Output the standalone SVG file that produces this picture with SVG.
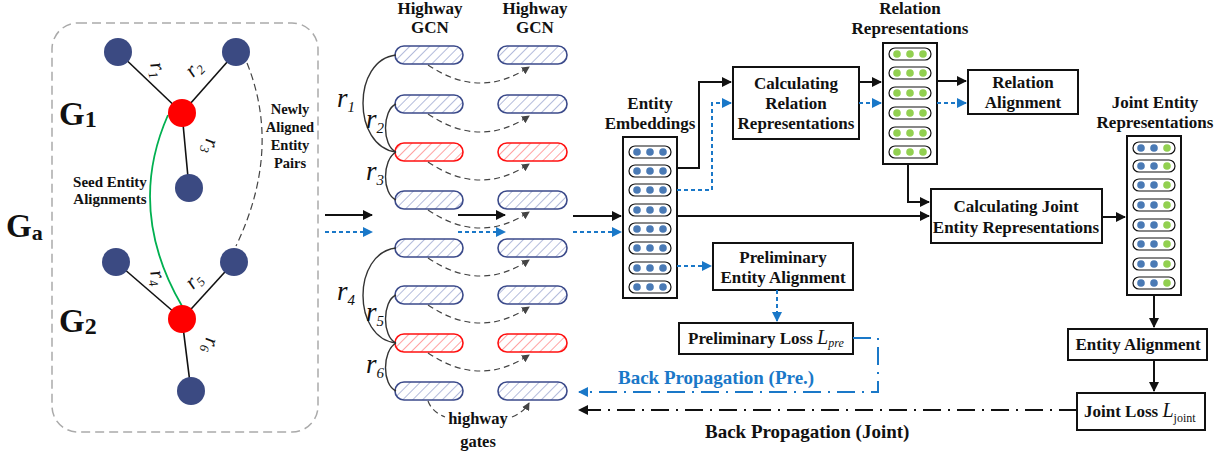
<svg xmlns="http://www.w3.org/2000/svg" width="1229" height="461" viewBox="0 0 1229 461">
<defs>
<style>
.t{font-family:"Liberation Serif","Times New Roman",serif;font-weight:bold;fill:#111}
.c{text-anchor:middle}
.it{font-family:"Liberation Serif","Times New Roman",serif;font-style:italic;fill:#111}
.box{fill:#fff;stroke:#111;stroke-width:2}
.cap{fill:#fff;stroke:#111;stroke-width:1.2}
.bd{fill:#4a7ab5}
.gd{fill:#92d050}
.bar{fill:url(#hb);stroke:#3b4a8a;stroke-width:1.6}
.barr{fill:url(#hr);stroke:#ff1010;stroke-width:1.6}
.k{fill:none;stroke:#111;stroke-width:2}
.bl{fill:none;stroke:#1a78c8;stroke-width:2;stroke-dasharray:4,3}
.gate{fill:none;stroke:#444;stroke-width:1.2;stroke-dasharray:6,4}
.rl{fill:none;stroke:#333;stroke-width:1.4}
.edge{stroke:#111;stroke-width:1.6}
.nb{fill:#3b4a82}
.nr{fill:#ff0000}
</style>
<pattern id="hb" width="7" height="7" patternUnits="userSpaceOnUse" patternTransform="rotate(45)">
<rect width="7" height="7" fill="#fff"/><line x1="0" y1="0" x2="0" y2="7" stroke="#8a96c8" stroke-width="1.3"/>
</pattern>
<pattern id="hr" width="7" height="7" patternUnits="userSpaceOnUse" patternTransform="rotate(45)">
<rect width="7" height="7" fill="#fff"/><line x1="0" y1="0" x2="0" y2="7" stroke="#ff7070" stroke-width="1.3"/>
</pattern>
<marker id="ak" markerWidth="10" markerHeight="10" refX="9" refY="5" orient="auto" markerUnits="userSpaceOnUse"><path d="M0,0 L10,5 L0,10 Z" fill="#111"/></marker>
<marker id="ab" markerWidth="10" markerHeight="10" refX="9" refY="5" orient="auto" markerUnits="userSpaceOnUse"><path d="M0,0 L10,5 L0,10 Z" fill="#1a78c8"/></marker>
<marker id="ag" markerWidth="8" markerHeight="8" refX="7" refY="4" orient="auto" markerUnits="userSpaceOnUse"><path d="M0,0 L8,4 L0,8 Z" fill="#444"/></marker>
<g id="capB"><rect class="cap" x="-21" y="-6" width="42" height="12" rx="6"/><circle class="bd" cx="-13" cy="0" r="3.8"/><circle class="bd" cx="0" cy="0" r="3.8"/><circle class="bd" cx="13" cy="0" r="3.8"/></g>
<g id="capG"><rect class="cap" x="-21" y="-6" width="42" height="12" rx="6"/><circle class="gd" cx="-13" cy="0" r="3.8"/><circle class="gd" cx="0" cy="0" r="3.8"/><circle class="gd" cx="13" cy="0" r="3.8"/></g>
<g id="capJ"><rect class="cap" x="-21" y="-6" width="42" height="12" rx="6"/><circle class="bd" cx="-13" cy="0" r="3.8"/><circle class="bd" cx="0" cy="0" r="3.8"/><circle class="gd" cx="13" cy="0" r="3.8"/></g>
</defs>
<rect width="1229" height="461" fill="#fff"/>

<!-- Left graph -->
<g id="graph">
<rect x="52" y="23" width="266" height="409" rx="26" fill="none" stroke="#aaa" stroke-width="1.5" stroke-dasharray="9,5"/>
<line class="edge" x1="118" y1="52" x2="182" y2="113"/>
<line class="edge" x1="236" y1="52" x2="182" y2="113"/>
<line class="edge" x1="182" y1="113" x2="189" y2="188"/>
<line class="edge" x1="116" y1="262" x2="182" y2="319"/>
<line class="edge" x1="234" y1="262" x2="182" y2="319"/>
<line class="edge" x1="182" y1="319" x2="191" y2="391"/>
<path d="M168,115 Q126,210 182,306" fill="none" stroke="#00b050" stroke-width="1.8"/>
<path d="M247,63 Q282,150 236,246" fill="none" stroke="#444" stroke-width="1.2" stroke-dasharray="7,4"/>
<circle class="nb" cx="118" cy="52" r="14"/>
<circle class="nb" cx="236" cy="52" r="14"/>
<circle class="nr" cx="182" cy="113" r="14"/>
<circle class="nb" cx="189" cy="188" r="14"/>
<circle class="nb" cx="116" cy="262" r="14"/>
<circle class="nb" cx="234" cy="262" r="14"/>
<circle class="nr" cx="182" cy="319" r="14"/>
<circle class="nb" cx="191" cy="391" r="14"/>
<text class="it" font-size="21" transform="translate(150,64) rotate(75)">r<tspan font-size="13" dy="4">1</tspan></text>
<text class="it" font-size="21" transform="translate(193,78) rotate(-45)">r<tspan font-size="13" dy="4">2</tspan></text>
<text class="it" font-size="21" transform="translate(206,138) rotate(100)">r<tspan font-size="13" dy="4">3</tspan></text>
<text class="it" font-size="21" transform="translate(150,272) rotate(75)">r<tspan font-size="13" dy="4">4</tspan></text>
<text class="it" font-size="21" transform="translate(193,290) rotate(-45)">r<tspan font-size="13" dy="4">5</tspan></text>
<text class="it" font-size="21" transform="translate(206,337) rotate(100)">r<tspan font-size="13" dy="4">6</tspan></text>
<text class="t" font-size="33" x="59" y="125">G<tspan font-size="24" dy="2">1</tspan></text>
<text class="t" font-size="33" x="59" y="332">G<tspan font-size="24" dy="2">2</tspan></text>
<text class="t" font-size="33" x="6" y="237">G<tspan font-size="22" dy="3">a</tspan></text>
<text class="t c" font-size="15" x="110" y="187">Seed Entity</text>
<text class="t c" font-size="15" x="110" y="204">Alignments</text>
<text class="t c" font-size="14.5" x="290" y="114">Newly</text>
<text class="t c" font-size="14.5" x="290" y="132">Aligned</text>
<text class="t c" font-size="14.5" x="290" y="150">Entity</text>
<text class="t c" font-size="14.5" x="290" y="168">Pairs</text>
</g>

<!-- Highway GCN layers -->
<g id="highway">
<text class="t c" font-size="17" x="430" y="14">Highway</text>
<text class="t c" font-size="17" x="430" y="33">GCN</text>
<text class="t c" font-size="17" x="535" y="14">Highway</text>
<text class="t c" font-size="17" x="535" y="33">GCN</text>
<rect class="bar" x="395" y="46" width="68" height="18" rx="9"/>
<rect class="bar" x="395" y="95" width="68" height="18" rx="9"/>
<rect class="barr" x="395" y="143" width="68" height="18" rx="9"/>
<rect class="bar" x="395" y="191" width="68" height="18" rx="9"/>
<rect class="bar" x="395" y="239" width="68" height="18" rx="9"/>
<rect class="bar" x="395" y="286" width="68" height="18" rx="9"/>
<rect class="barr" x="395" y="334" width="68" height="18" rx="9"/>
<rect class="bar" x="395" y="382" width="68" height="18" rx="9"/>
<rect class="bar" x="498" y="46" width="69" height="18" rx="9"/>
<rect class="bar" x="498" y="95" width="69" height="18" rx="9"/>
<rect class="barr" x="498" y="143" width="69" height="18" rx="9"/>
<rect class="bar" x="498" y="191" width="69" height="18" rx="9"/>
<rect class="bar" x="498" y="239" width="69" height="18" rx="9"/>
<rect class="bar" x="498" y="286" width="69" height="18" rx="9"/>
<rect class="barr" x="498" y="334" width="69" height="18" rx="9"/>
<rect class="bar" x="498" y="382" width="69" height="18" rx="9"/>
<path class="rl" d="M396,55 C352,60 352,146 396,152"/>
<path class="rl" d="M396,104 C382,110 382,146 396,152"/>
<path class="rl" d="M396,152 C382,160 382,194 396,200"/>
<path class="rl" d="M396,248 C352,253 352,338 396,343"/>
<path class="rl" d="M396,295 C382,301 382,337 396,343"/>
<path class="rl" d="M396,343 C382,351 382,385 396,391"/>
<text class="it" font-size="27" x="337" y="107">r<tspan font-size="15" dy="5">1</tspan></text>
<text class="it" font-size="27" x="366" y="128">r<tspan font-size="15" dy="5">2</tspan></text>
<text class="it" font-size="27" x="366" y="180">r<tspan font-size="15" dy="5">3</tspan></text>
<text class="it" font-size="27" x="337" y="300">r<tspan font-size="15" dy="5">4</tspan></text>
<text class="it" font-size="27" x="366" y="321">r<tspan font-size="15" dy="5">5</tspan></text>
<text class="it" font-size="27" x="366" y="373">r<tspan font-size="15" dy="5">6</tspan></text>
<text class="t c" font-size="16.5" x="478" y="424">highway</text>
<text class="t c" font-size="16.5" x="478" y="447">gates</text>
</g>

<!-- Entity embeddings -->
<g id="entity-embeddings">
<text class="t c" font-size="17" x="650" y="109">Entity</text>
<text class="t c" font-size="17" x="650" y="129">Embeddings</text>
<rect class="box" x="623" y="137" width="54" height="161"/>
<use href="#capB" x="650" y="152"/>
<use href="#capB" x="650" y="171"/>
<use href="#capB" x="650" y="190"/>
<use href="#capB" x="650" y="210"/>
<use href="#capB" x="650" y="229"/>
<use href="#capB" x="650" y="248"/>
<use href="#capB" x="650" y="268"/>
<use href="#capB" x="650" y="287"/>
</g>

<g id="calc-relation">
<rect class="box" x="733" y="67" width="126" height="72"/>
<text class="t c" font-size="17" x="796" y="89">Calculating</text>
<text class="t c" font-size="17" x="796" y="109">Relation</text>
<text class="t c" font-size="17" x="796" y="129">Representations</text>
</g>

<g id="relation-representations">
<text class="t c" font-size="17" x="910" y="14">Relation</text>
<text class="t c" font-size="17" x="910" y="34">Representations</text>
<rect class="box" x="883" y="43" width="54" height="121"/>
<use href="#capG" x="910" y="54"/>
<use href="#capG" x="910" y="73"/>
<use href="#capG" x="910" y="93"/>
<use href="#capG" x="910" y="113"/>
<use href="#capG" x="910" y="133"/>
<use href="#capG" x="910" y="152"/>
</g>

<g id="relation-alignment">
<rect class="box" x="968" y="70" width="110" height="44"/>
<text class="t c" font-size="17" x="1023" y="88">Relation</text>
<text class="t c" font-size="17" x="1023" y="108">Alignment</text>
</g>

<g id="calc-joint">
<rect class="box" x="931" y="189" width="171" height="54"/>
<text class="t c" font-size="17" x="1016" y="212">Calculating Joint</text>
<text class="t c" font-size="17" x="1016" y="233">Entity Representations</text>
</g>

<g id="joint-representations">
<text class="t c" font-size="17" x="1155" y="108">Joint Entity</text>
<text class="t c" font-size="17" x="1155" y="128">Representations</text>
<rect class="box" x="1127" y="136" width="54" height="159"/>
<use href="#capJ" x="1154" y="148"/>
<use href="#capJ" x="1154" y="166"/>
<use href="#capJ" x="1154" y="185"/>
<use href="#capJ" x="1154" y="205"/>
<use href="#capJ" x="1154" y="225"/>
<use href="#capJ" x="1154" y="244"/>
<use href="#capJ" x="1154" y="264"/>
<use href="#capJ" x="1154" y="283"/>
</g>

<g id="preliminary-alignment">
<rect class="box" x="713" y="243" width="140" height="47"/>
<text class="t c" font-size="17" x="783" y="263">Preliminary</text>
<text class="t c" font-size="17" x="783" y="283">Entity Alignment</text>
</g>

<g id="preliminary-loss">
<rect class="box" x="679" y="323" width="174" height="31"/>
<text class="t" font-size="17" x="688" y="344">Preliminary Loss <tspan class="it" font-weight="normal" font-size="20">L</tspan><tspan class="it" font-weight="normal" font-size="12" dy="3">pre</tspan></text>
</g>

<g id="entity-alignment">
<rect class="box" x="1068" y="329" width="139" height="31"/>
<text class="t c" font-size="17" x="1138" y="350">Entity Alignment</text>
</g>

<g id="joint-loss">
<rect class="box" x="1077" y="393" width="128" height="37"/>
<text class="t" font-size="17" x="1084" y="417">Joint Loss <tspan class="it" font-weight="normal" font-size="20">L</tspan><tspan font-family="Liberation Serif" font-weight="normal" font-size="12" dy="5">joint</tspan></text>
</g>

<g id="connectors">
<path class="gate" d="M428,65 Q480,100 529,67" marker-end="url(#ag)"/>
<path class="gate" d="M428,114 Q480,149 529,116" marker-end="url(#ag)"/>
<path class="gate" d="M428,162 Q480,197 529,164" marker-end="url(#ag)"/>
<path class="gate" d="M428,210 Q480,245 529,212" marker-end="url(#ag)"/>
<path class="gate" d="M428,258 Q480,293 529,260" marker-end="url(#ag)"/>
<path class="gate" d="M428,305 Q480,340 529,307" marker-end="url(#ag)"/>
<path class="gate" d="M428,353 Q480,388 529,355" marker-end="url(#ag)"/>
<path class="gate" d="M428,401 Q432,412 445,417"/>
<path class="gate" d="M512,417 Q524,412 529,403" marker-end="url(#ag)"/>
<line class="k" x1="325" y1="215" x2="372" y2="215" marker-end="url(#ak)"/>
<line class="k" x1="458" y1="215" x2="505" y2="215" marker-end="url(#ak)"/>
<line class="k" x1="573" y1="216" x2="621" y2="216" marker-end="url(#ak)"/>
<line class="bl" x1="325" y1="232" x2="372" y2="232" marker-end="url(#ab)"/>
<line class="bl" x1="458" y1="232" x2="505" y2="232" marker-end="url(#ab)"/>
<line class="bl" x1="573" y1="232" x2="621" y2="232" marker-end="url(#ab)"/>
<path class="k" d="M677,168 H699 V82 H731" marker-end="url(#ak)"/>
<path class="bl" d="M677,190 H712 V103 H731" marker-end="url(#ab)"/>
<line class="k" x1="859" y1="82" x2="881" y2="82" marker-end="url(#ak)"/>
<line class="bl" x1="859" y1="103" x2="881" y2="103" marker-end="url(#ab)"/>
<line class="k" x1="937" y1="81" x2="966" y2="81" marker-end="url(#ak)"/>
<line class="bl" x1="937" y1="103" x2="966" y2="103" marker-end="url(#ab)"/>
<path class="k" d="M908,164 V202 H929" marker-end="url(#ak)"/>
<line class="k" x1="677" y1="216" x2="929" y2="216" marker-end="url(#ak)"/>
<line class="k" x1="1102" y1="217" x2="1125" y2="217" marker-end="url(#ak)"/>
<line class="bl" x1="677" y1="266" x2="711" y2="266" marker-end="url(#ab)"/>
<line class="bl" x1="777" y1="290" x2="777" y2="321" marker-end="url(#ab)"/>
<line class="k" x1="1154" y1="295" x2="1154" y2="327" marker-end="url(#ak)"/>
<line class="k" x1="1154" y1="360" x2="1154" y2="391" marker-end="url(#ak)"/>
<path d="M853,338 H878 V392 H579" fill="none" stroke="#1a78c8" stroke-width="2" stroke-dasharray="18,7,2,7" marker-end="url(#ab)"/>
<path d="M1077,410 H579" fill="none" stroke="#111" stroke-width="2" stroke-dasharray="18,7,2,7" marker-end="url(#ak)"/>
<text class="t" font-size="19" x="618" y="384" style="fill:#1a78c8">Back Propagation (Pre.)</text>
<text class="t" font-size="19" x="705" y="438">Back Propagation (Joint)</text>
</g>
</svg>
